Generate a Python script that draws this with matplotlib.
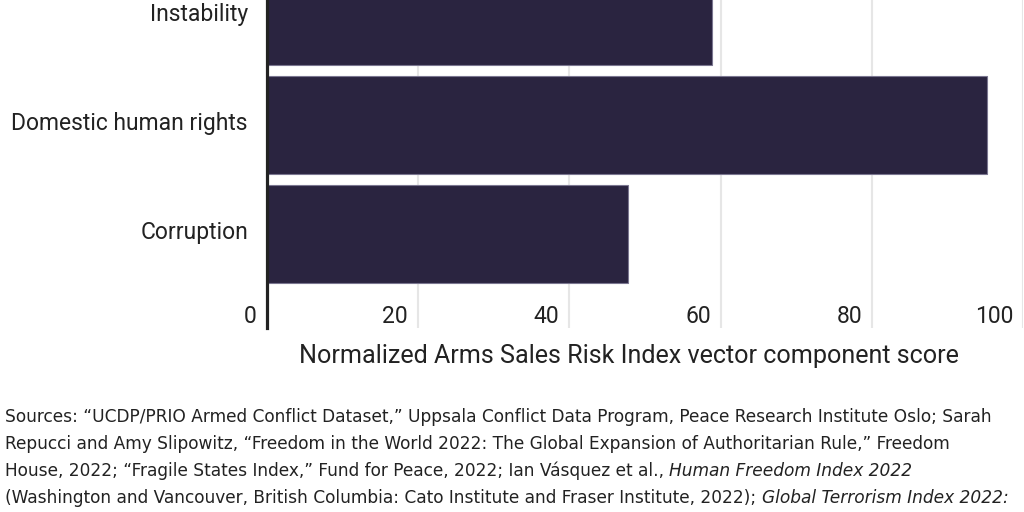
import matplotlib
matplotlib.use("Agg")
import matplotlib.pyplot as plt
import matplotlib.transforms as mtransforms

# ---- data
categories = ["Corruption", "Domestic human rights", "Instability"]
scores = [47.8, 95.2, 58.8]
xticks = [0, 20, 40, 60, 80, 100]

source_lines = [
    [("Sources: \u201cUCDP/PRIO Armed Conflict Dataset,\u201d Uppsala Conflict Data Program, Peace Research Institute Oslo; Sarah", "normal")],
    [("Repucci and Amy Slipowitz, \u201cFreedom in the World 2022: The Global Expansion of Authoritarian Rule,\u201d Freedom", "normal")],
    [("House, 2022; \u201cFragile States Index,\u201d Fund for Peace, 2022; Ian V\u00e1squez et al., ", "normal"),
     ("Human Freedom Index 2022", "italic")],
    [("(Washington and Vancouver, British Columbia: Cato Institute and Fraser Institute, 2022); ", "normal"),
     ("Global Terrorism Index 2022:", "italic")],
]

FONT = "Roboto"
NOTE_FONT = "DejaVu Sans"
plt.rcParams["font.family"] = [FONT, "DejaVu Sans"]

fig = plt.figure(figsize=(10.24, 5.12), dpi=100)
W, H = 1024, 512
ax = fig.add_axes([266.7 / W, 1 - 328 / H, (1023.3 - 266.7) / W, 328 / H])

pos = list(range(len(categories)))
ax.barh(pos, scores, height=0.9, color="#2a2440", edgecolor="#7a7690", linewidth=0.8, zorder=3)

ax.set_xlim(0, 100)
ax.set_ylim(-0.861, 2.149)

for s in ["top", "right", "bottom"]:
    ax.spines[s].set_visible(False)
ax.spines["left"].set_color("#222222")
ax.spines["left"].set_linewidth(2.3)
ax.spines["left"].set_zorder(5)

ax.set_xticks(xticks)
ax.set_xticklabels([str(t) for t in xticks])
ax.grid(axis="x", color="#e6e6e6", linewidth=1.5, zorder=0)
ax.tick_params(axis="x", length=0, pad=-16.5, labelsize=16.5, labelcolor="#222222")
offset = mtransforms.ScaledTranslation(-10 / 100, 0, fig.dpi_scale_trans)
for lab in ax.get_xticklabels():
    lab.set_ha("right")
    lab.set_transform(lab.get_transform() + offset)

ax.set_yticks(pos)
ax.set_yticklabels(categories)
ax.tick_params(axis="y", length=0, pad=13.5, labelsize=16.5, labelcolor="#222222")
yoff = mtransforms.ScaledTranslation(0, 4 / 100, fig.dpi_scale_trans)
for lab in ax.get_yticklabels():
    lab.set_transform(lab.get_transform() + yoff)

ax.set_xlabel("Normalized Arms Sales Risk Index vector component score",
              fontsize=18.1, color="#222222")
ax.xaxis.set_label_coords((629 - 266.7) / (1023.3 - 266.7), -(362.7 - 328) / 328)
ax.xaxis.label.set_va("baseline")

# ---- source note, drawn piece by piece to allow italic runs
fig.canvas.draw()
renderer = fig.canvas.get_renderer()


def line_width(line, size):
    w = 0
    for txt, style in line:
        p = fig.text(0.5, 0.5, txt, fontsize=size, style=style, family=NOTE_FONT)
        w += p.get_window_extent(renderer=renderer).width
        p.remove()
    return w


# size the note so the widest line fits the figure (ends near x=1016)
note_size = 11.0
for _ in range(4):
    widest = max(line_width(ln, note_size) for ln in source_lines)
    note_size = note_size * 1010 / widest

baselines = [421.7, 448.8, 476.0, 503.0]
for line, yb in zip(source_lines, baselines):
    x = 5
    for txt, style in line:
        t = fig.text(x / W, 1 - yb / H, txt, fontsize=note_size, style=style,
                     family=NOTE_FONT, color="#222222", va="baseline", ha="left")
        bb = t.get_window_extent(renderer=renderer)
        x = bb.x1

fig.savefig("out.png", dpi=100)
